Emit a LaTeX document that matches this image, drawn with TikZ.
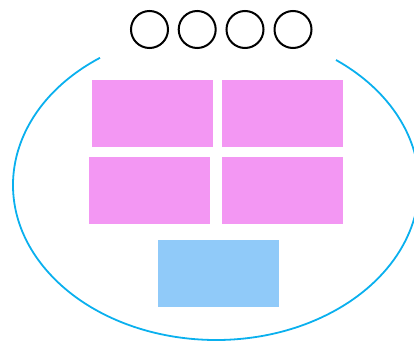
\documentclass[tikz,border=0pt]{standalone}
\definecolor{pinkbox}{HTML}{F397F3}
\definecolor{bluebox}{HTML}{90CAF9}
\definecolor{ringblue}{HTML}{0AB0EE}
\begin{document}
\begin{tikzpicture}[x=1pt,y=1pt,
  dot/.style={circle,draw=black,line width=2pt,minimum size=37pt,inner sep=0pt},
  pbox/.style={rectangle,fill=pinkbox,minimum width=121pt,minimum height=67pt,inner sep=0pt},
  bbox/.style={rectangle,fill=bluebox,minimum width=121pt,minimum height=67pt,inner sep=0pt},
  ring/.style={draw=ringblue,line width=1.8pt}]
\useasboundingbox (0,0) rectangle (414,341);
\clip (0,0) rectangle (414,341);
% ring (open at top)
\draw[ring] (216,156) ++(124.85:203 and 155) arc[start angle=124.85,end angle=413.76,x radius=203,y radius=155];
% circles
\node[dot] (c1) at (149.5,311.5) {};
\node[dot] (c2) at (197.2,311.5) {};
\node[dot] (c3) at (245,311.5) {};
\node[dot] (c4) at (293,311.5) {};
% boxes
\node[pbox] (r1) at (152.5,227.5) {};
\node[pbox] (r2) at (282.5,227.5) {};
\node[pbox] (r3) at (149.5,150.5) {};
\node[pbox] (r4) at (282.5,150.5) {};
\node[bbox] (r5) at (218.5,67.5) {};
\end{tikzpicture}
\end{document}
